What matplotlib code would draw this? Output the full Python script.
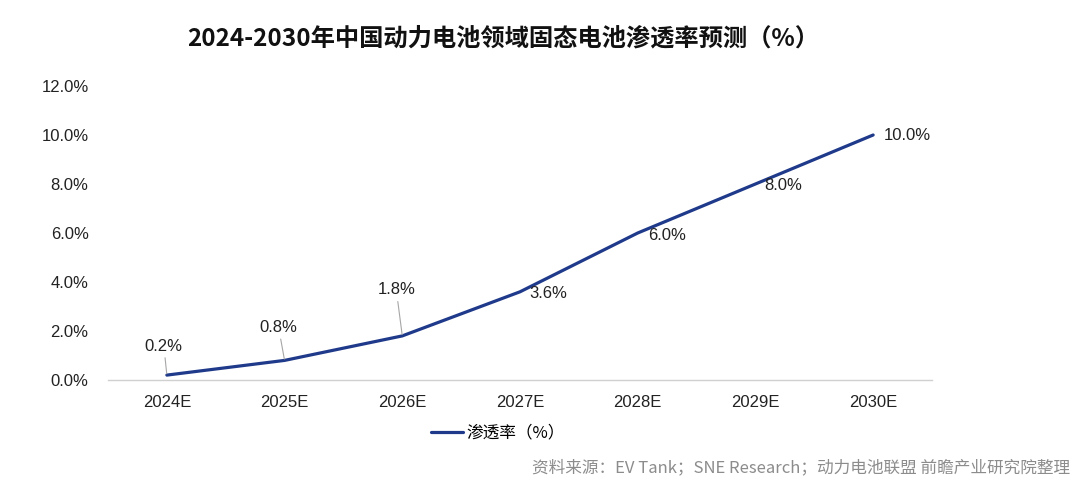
import matplotlib.pyplot as plt
from matplotlib.ticker import FuncFormatter

plt.rcParams['font.family'] = ['Liberation Sans', 'Noto Sans CJK SC', 'DejaVu Sans']

# Data
years = ['2024E', '2025E', '2026E', '2027E', '2028E', '2029E', '2030E']
penetration = [0.2, 0.8, 1.8, 3.6, 6.0, 8.0, 10.0]
# label offsets in pixels (dx, dy) relative to each point
label_offsets = [(-3, 29), (-6, 33), (-6, 46), (28, -2), (29, -2), (28, -2), (34, -1)]

fig = plt.figure(figsize=(10.8, 4.92), dpi=100)
ax = fig.add_axes([108 / 1080, 1 - 380 / 492, 824 / 1080, 294 / 492])

x = range(len(years))
ax.plot(x, penetration, color='#1f3a8a', linewidth=2.3, label='渗透率（%）',
        solid_capstyle='round', solid_joinstyle='round')

for i, (v, off) in enumerate(zip(penetration, label_offsets)):
    leader = dict(arrowstyle='-', color='#a6a6a6', lw=0.8, shrinkA=1, shrinkB=1) if off[1] > 20 else None
    ax.annotate(f'{v:.1f}%', xy=(i, v), xytext=off, textcoords='offset pixels',
                ha='center', va='center', fontsize=12, color='#222222',
                arrowprops=leader)

ax.set_xlim(-0.5, len(years) - 0.5)
ax.set_ylim(0, 12)
ax.set_yticks([0, 2, 4, 6, 8, 10, 12])
ax.yaxis.set_major_formatter(FuncFormatter(lambda v, p: f'{v:.1f}%'))
ax.set_xticks(list(x))
ax.set_xticklabels(years)
ax.tick_params(axis='both', length=0, labelsize=12, colors='#222222')
ax.tick_params(axis='x', pad=11)
ax.tick_params(axis='y', pad=14)

for s in ['top', 'right', 'left']:
    ax.spines[s].set_visible(False)
ax.spines['bottom'].set_color('#d0d0d0')
ax.spines['bottom'].set_linewidth(1)

fig.text(0.4655, 1 - 38 / 492, '2024-2030年中国动力电池领域固态电池渗透率预测（%）',
         ha='center', va='center', fontsize=17.5, fontweight='bold',
         family=['Noto Sans CJK SC', 'DejaVu Sans'], color='#111111')

leg = ax.legend(loc='center', bbox_to_anchor=(498 / 1080, 1 - 433 / 492),
                bbox_transform=fig.transFigure, frameon=False,
                handlelength=1.9, handletextpad=0.2,
                prop={'family': ['Noto Sans CJK SC', 'DejaVu Sans'], 'size': 12})

fig.text(1070 / 1080, 1 - 468 / 492, '资料来源：EV Tank；SNE Research；动力电池联盟 前瞻产业研究院整理',
         ha='right', va='center', fontsize=12, color='#8c8c8c',
         family=['Noto Sans CJK SC', 'DejaVu Sans'])

fig.savefig('out.png', dpi=100)
